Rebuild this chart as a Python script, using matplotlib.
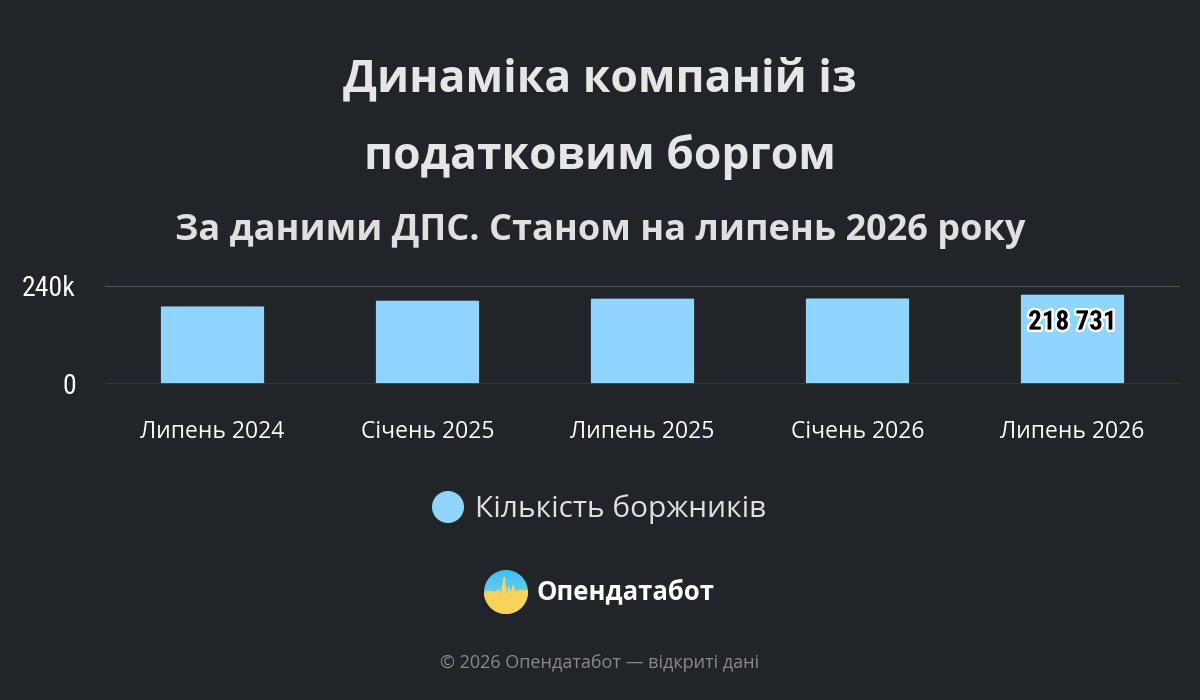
import numpy as np
import matplotlib
matplotlib.use('Agg')
import matplotlib.pyplot as plt
import matplotlib.patheffects as pe
from matplotlib.patches import Circle, FancyBboxPatch

# дані
categories = ["Липень 2024", "Січень 2025", "Липень 2025", "Січень 2026", "Липень 2026"]
debtors = [190000, 204000, 209000, 209500, 218731]
series_name = "Кількість боржників"
y_ticks = [0, 240000]
y_tick_labels = ["0", "240k"]

BG = "#212428"
BAR = "#8fd5ff"
plt.rcParams['font.family'] = ['Open Sans', 'DejaVu Sans']

fig = plt.figure(figsize=(12, 7), dpi=100, facecolor=BG)

# заголовки
fig.text(0.5, 1 - 80 / 700, "Динаміка компаній із", ha="center", va="center",
         fontsize=32, fontweight="bold", color="#e6e6e6")
fig.text(0.5, 1 - 157 / 700, "податковим боргом", ha="center", va="center",
         fontsize=32, fontweight="bold", color="#e6e6e6")
fig.text(0.5, 1 - 231 / 700, "За даними ДПС. Станом на липень 2026 року",
         ha="center", va="center", fontsize=26, fontweight="bold", color="#e0e0e0")

ax = fig.add_axes([105 / 1200, 1 - 384 / 700, 1075 / 1200, 98 / 700])
ax.set_facecolor(BG)
x = np.arange(len(categories))
for xi, v in zip(x, debtors):
    ax.add_patch(FancyBboxPatch((xi - 0.24, 0), 0.48, v,
                                boxstyle="round,pad=0,rounding_size=0.02",
                                mutation_aspect=20000, facecolor=BAR,
                                edgecolor="none", zorder=3))
ax.set_xlim(-0.5, len(categories) - 0.5)
ax.set_ylim(0, 240000)
ax.set_yticks(y_ticks)
ax.set_yticklabels(y_tick_labels)
ax.set_xticks(x)
ax.set_xticklabels(categories)
ax.tick_params(axis="y", length=0, pad=21, labelsize=20, colors="white")
ax.tick_params(axis="x", length=0, pad=26, labelsize=16.5, colors="white")
for lab in ax.get_yticklabels():
    lab.set_family(['Liberation Sans Narrow', 'Roboto Condensed', 'DejaVu Sans'])
for s in ax.spines.values():
    s.set_visible(False)
ax.axhline(240000, color="#555555", linewidth=1.5, zorder=1)
ax.axhline(0, color="#3a3a3a", linewidth=2, zorder=4)

# підпис останнього стовпця
ax.text(x[-1], debtors[-1] - 0.28 * 240000, f"{debtors[-1]:,}".replace(",", " "),
        ha="center", va="center", fontsize=19.5, fontweight="bold", color="black",
        family=['Liberation Sans Narrow', 'Roboto Condensed', 'DejaVu Sans'], zorder=5,
        path_effects=[pe.withStroke(linewidth=3.5, foreground="white")])

# легенда
leg = Circle((4.48, (700 - 507) / 100), 0.16, transform=fig.dpi_scale_trans,
             facecolor=BAR, edgecolor="none")
fig.patches.append(leg)
fig.text(475 / 1200, 1 - 509 / 700, series_name, ha="left", va="center",
         fontsize=21.5, color="#e0e0e0")

# логотип
lax = fig.add_axes([484 / 1200, 1 - 614 / 700, 44 / 1200, 44 / 700])
lax.set_xlim(-1, 1)
lax.set_ylim(-1, 1)
lax.axis("off")
grad = np.linspace(0, 1, 100)[:, None]
img = lax.imshow(np.hstack([grad, grad]), extent=(-1, 1, -1, 1), origin="upper",
                 cmap=matplotlib.colors.LinearSegmentedColormap.from_list(
                     "lg", ["#35c3f6", "#6fc9e8", "#f6d24e"]),
                 aspect="auto")
img.set_clip_path(Circle((0, 0), 1, transform=lax.transData))
px = [-1, -0.5, -0.35, -0.25, -0.1, 0.0, 0.1, 0.2, 0.3, 0.4, 0.5, 1]
py = [0.0, 0.0, 0.1, -0.15, 0.7, -0.3, 0.25, -0.1, 0.3, 0.0, 0.05, 0.05]
fl = lax.fill_between(px, py, -1.2, color="#f7d35a", zorder=3)
fl.set_clip_path(Circle((0, 0), 1, transform=lax.transData))
fig.text(536 / 1200, 1 - 592 / 700, "Опендатабот", ha="left", va="center",
         fontsize=18.5, fontweight="bold", color="white")

fig.text(0.5, 1 - 663 / 700, "© 2026 Опендатабот — відкриті дані", ha="center",
         va="center", fontsize=13, color="#8a8a8a")

fig.savefig("out.png", dpi=100, facecolor=BG)
